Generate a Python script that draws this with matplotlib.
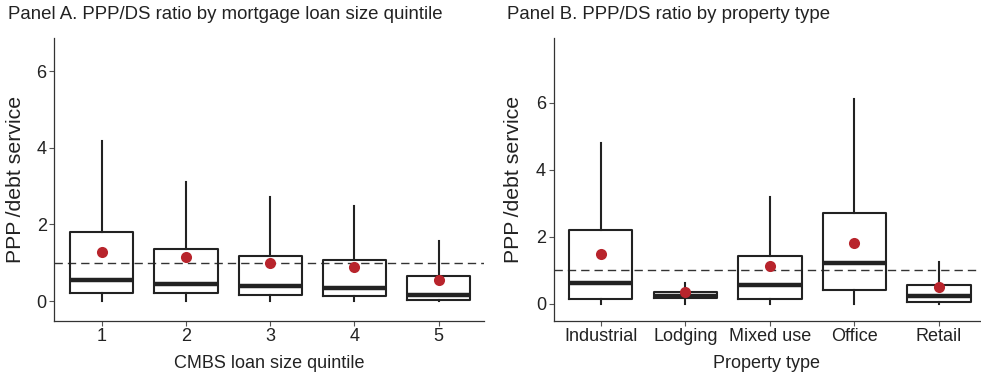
import matplotlib
matplotlib.use("Agg")
import matplotlib.pyplot as plt

plt.rcParams['font.family'] = ['Liberation Sans', 'DejaVu Sans']
plt.rcParams['lines.scale_dashes'] = False

# Panel A data
a_cats = ["1", "2", "3", "4", "5"]
a_whislo = [0.0, 0.0, 0.0, 0.0, 0.0]
a_q1 = [0.20, 0.20, 0.16, 0.12, 0.03]
a_med = [0.55, 0.45, 0.39, 0.34, 0.16]
a_q3 = [1.81, 1.37, 1.18, 1.08, 0.65]
a_whishi = [4.18, 3.11, 2.71, 2.48, 1.56]
a_mean = [1.29, 1.16, 0.99, 0.90, 0.55]

# Panel B data
b_cats = ["Industrial", "Lodging", "Mixed use", "Office", "Retail"]
b_whislo = [0.0, 0.0, 0.0, 0.0, 0.0]
b_q1 = [0.14, 0.19, 0.16, 0.42, 0.06]
b_med = [0.63, 0.25, 0.56, 1.21, 0.23]
b_q3 = [2.20, 0.36, 1.43, 2.72, 0.55]
b_whishi = [4.81, 0.62, 3.19, 6.10, 1.26]
b_mean = [1.48, 0.36, 1.12, 1.82, 0.50]

ref_line = 1.0
yticks = [0, 2, 4, 6]

W, H = 981, 379
fig = plt.figure(figsize=(W / 100, H / 100), dpi=100)

dark = "#222222"
axcol = "#333333"
red = "#B8242C"


def panel(rect, cats, wlo, q1, med, q3, whi, mean, ylim, xlim, title, tx, xlabel, ylabel_x):
    ax = fig.add_axes(rect)
    stats = []
    for i in range(len(cats)):
        stats.append(dict(whislo=wlo[i], q1=q1[i], med=med[i], q3=q3[i], whishi=whi[i], fliers=[]))
    pos = list(range(1, len(cats) + 1))
    ax.bxp(stats, positions=pos, widths=0.75, showfliers=False, showcaps=False,
           boxprops=dict(color=dark, linewidth=1.5),
           medianprops=dict(color=dark, linewidth=3.2, solid_capstyle='butt'),
           whiskerprops=dict(color=dark, linewidth=1.5),
           zorder=2)
    ax.axhline(ref_line, color=axcol, linewidth=1.0, linestyle=(0, (6, 3.6)), zorder=1)
    ax.plot(pos, mean, 'o', color=red, markersize=8, markeredgewidth=0, zorder=4)
    ax.set_ylim(*ylim)
    ax.set_xlim(*xlim)
    ax.set_yticks(yticks)
    ax.set_xticks(pos)
    ax.set_xticklabels(cats)
    for s in ['top', 'right']:
        ax.spines[s].set_visible(False)
    for s in ['left', 'bottom']:
        ax.spines[s].set_color(axcol)
        ax.spines[s].set_linewidth(0.9)
    ax.tick_params(axis='both', length=3.6, width=0.8, color="#555555", labelsize=13,
                   labelcolor=dark)
    ax.tick_params(axis='x', pad=1.5)
    ax.tick_params(axis='y', pad=1.9)
    ax.set_xlabel(xlabel, fontsize=13, color=dark)
    ax.xaxis.set_label_coords(0.5, -0.119)
    ax.set_ylabel("PPP\u2009/debt service", fontsize=15.3, color=dark)
    ax.yaxis.set_label_coords(ylabel_x, 0.5)
    fig.text(tx / W, 1 - 19 / H, title, fontsize=13.4, color=dark, va='baseline', ha='left')
    return ax


bottom = (H - 321) / H
height = (321 - 37.7) / H

panel([54.3 / W, bottom, (484 - 54.3) / W, height], a_cats, a_whislo, a_q1, a_med, a_q3,
      a_whishi, a_mean, (-0.52, 6.87), (0.438, 5.537),
      "Panel A. PPP/DS ratio by mortgage loan size quintile", 8, "CMBS loan size quintile", -0.068)
panel([553.7 / W, bottom, (980 - 553.7) / W, height], b_cats, b_whislo, b_q1, b_med, b_q3,
      b_whishi, b_mean, (-0.51, 7.94), (0.444, 5.485),
      "Panel B. PPP/DS ratio by property type", 506.7, "Property type", -0.071)

fig.savefig("out.png", dpi=100)
